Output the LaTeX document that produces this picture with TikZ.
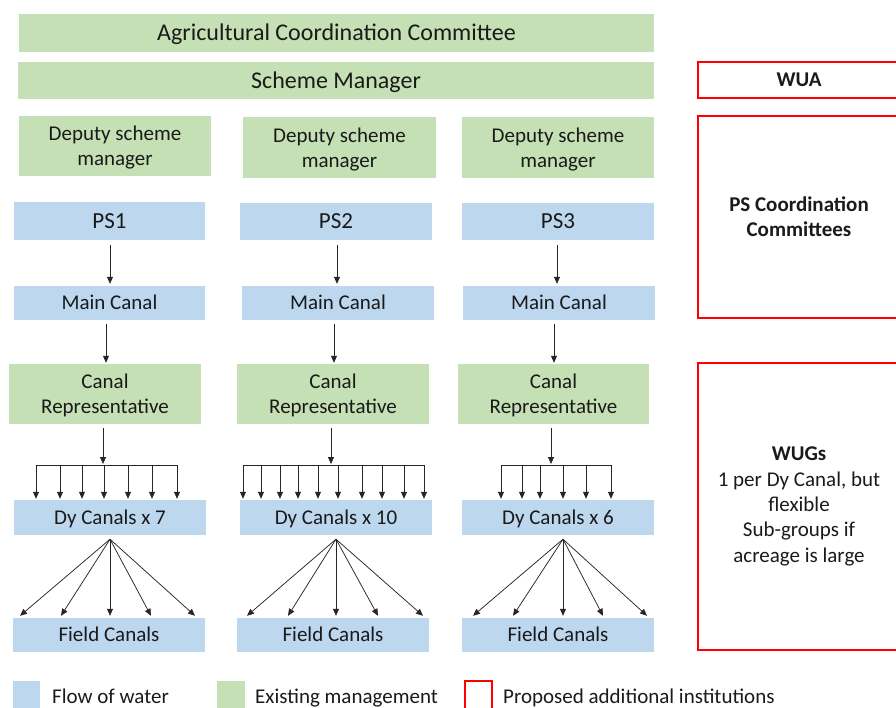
\documentclass[tikz,border=0pt]{standalone}
\usepackage{fontspec}
\setmainfont{Carlito}
\usetikzlibrary{arrows.meta,calc}
\definecolor{gfill}{HTML}{C5E0B4}
\definecolor{bfill}{HTML}{BDD7EE}
\definecolor{rline}{HTML}{FF0000}
\definecolor{txt}{HTML}{1A1A1A}
\begin{document}
\begin{tikzpicture}[x=1pt,y=-1pt,
  box/.style={inner sep=0pt, align=center, text=txt, font=\fontsize{21}{25.3}\selectfont},
  one/.style={text height=#1pt, text depth=0pt},
  one/.default=13.3,
  two/.style={text depth=0pt},
  gbox/.style={box, fill=gfill},
  bbox/.style={box, fill=bfill},
  rbox/.style={box, draw=rline, line width=1.3pt},
  big/.style={font=\fontsize{24}{28}\selectfont, one=15.2},
  psfont/.style={font=\fontsize{23}{27}\selectfont, one=14.5},
  sz/.style 2 args={minimum width=#1pt, minimum height=#2pt},
  arr/.style={draw=black!85, line width=0.75pt, -{Triangle[length=7pt,width=6pt]}},
  busline/.style={draw=black!85, line width=0.75pt}
]
\clip (0,0) rectangle (896,707);
% top
\node[gbox,big,sz={635}{38}] (agri) at (336.5,33) {Agricultural Coordination Committee};
\node[gbox,big,sz={636}{37}] (sm) at (336,80.5) {Scheme Manager};
% deputies
\node[gbox,two,sz={192}{60}] (dep1) at (115,146) {Deputy scheme\\manager};
\node[gbox,two,sz={193}{61}] (dep2) at (339.5,147.5) {Deputy scheme\\manager};
\node[gbox,two,sz={192}{61}] (dep3) at (558,147.5) {Deputy scheme\\manager};
% PS
\node[bbox,psfont,sz={191}{38}] (ps1) at (109.5,221) {PS1};
\node[bbox,psfont,sz={192}{37}] (ps2) at (336,221.5) {PS2};
\node[bbox,psfont,sz={192}{37}] (ps3) at (558,221.5) {PS3};
% main canals
\node[bbox,one,sz={191}{34}] (mc1) at (109.5,303) {Main Canal};
\node[bbox,one,sz={192}{34}] (mc2) at (338,303) {Main Canal};
\node[bbox,one,sz={192}{34}] (mc3) at (559,303) {Main Canal};
% canal reps
\node[gbox,two,sz={192}{60}] (cr1) at (105,394) {Canal\\Representative};
\node[gbox,two,sz={192}{60}] (cr2) at (333,394) {Canal\\Representative};
\node[gbox,two,sz={191}{60}] (cr3) at (553.5,394) {Canal\\Representative};
% dy canals
\node[bbox,one,sz={192}{35}] (dy1) at (110,517.5) {Dy Canals x 7};
\node[bbox,one,sz={192}{35}] (dy2) at (336,517.5) {Dy Canals x 10};
\node[bbox,one,sz={192}{35}] (dy3) at (558,517.5) {Dy Canals x 6};
% field canals
\node[bbox,one,sz={192}{34}] (fc1) at (109,635) {Field Canals};
\node[bbox,one,sz={192}{34}] (fc2) at (333,635) {Field Canals};
\node[bbox,one,sz={192}{34}] (fc3) at (558,635) {Field Canals};
% red boxes
\node[rbox,one,sz={202}{36}] (wua) at (799,80) {\bfseries WUA};
\node[rbox,sz={202}{202}] (psc) at (799,217) {\bfseries PS Coordination\\\bfseries Committees};
\node[rbox,sz={202}{287}] (wug) at (799,506.5) {\bfseries WUGs\\1 per Dy Canal, but\\flexible\\Sub-groups if\\acreage is large};
% arrows PS -> main canal
\draw[arr] ($(ps1.south)+(0.5,5)$) -- ($(mc1.north)+(0.5,-2)$);
\draw[arr] ($(ps2.south)+(1,5)$) -- ($(mc2.north)+(-1,-2)$);
\draw[arr] ($(ps3.south)+(-1,5)$) -- ($(mc3.north)+(-2,-2)$);
% main canal -> canal rep
\draw[arr] ($(mc1.south)+(-3.5,4)$) -- ($(cr1.north)+(1,-1)$);
\draw[arr] ($(mc2.south)+(-4,4)$) -- ($(cr2.north)+(1,-1)$);
\draw[arr] ($(mc3.south)+(-5,4)$) -- ($(cr3.north)+(0.5,-1)$);
% bus coordinates
\coordinate (b1) at (103,465);
\coordinate (b2) at (331,465);
\coordinate (b3) at (551,465);
\draw[arr] ($(cr1.south)+(-2,4)$) -- ($(b1)+(0,-1)$);
\draw[arr] ($(cr2.south)+(-2,4)$) -- ($(b2)+(0,-1)$);
\draw[arr] ($(cr3.south)+(-2.5,4)$) -- ($(b3)+(0,-1)$);
\draw[busline] (36,0 |- b1) -- (177,0 |- b1);
\draw[busline] (243,0 |- b2) -- (424,0 |- b2);
\draw[busline] (501,0 |- b3) -- (611,0 |- b3);
\foreach \x in {36,60,82,104,128,152,177}
  \draw[arr] (\x,0 |- b1) -- ([yshift=1pt]\x,0 |- dy1.north);
\foreach \x in {243,261,280,298,318,338,362,382,404,424}
  \draw[arr] (\x,0 |- b2) -- ([yshift=1pt]\x,0 |- dy2.north);
\foreach \x in {501,522,540,563,586,611}
  \draw[arr] (\x,0 |- b3) -- ([yshift=1pt]\x,0 |- dy3.north);
% fans
\coordinate (f1) at ($(dy1.south)+(0,4)$);
\coordinate (f2) at ($(dy2.south)+(0,4)$);
\coordinate (f3) at ($(dy3.south)+(5,4)$);
\foreach \x in {20,61,110,151,195}
  \draw[arr] (f1) -- ([yshift=2pt]\x,0 |- fc1.north);
\foreach \x in {247,288,336,378,423}
  \draw[arr] (f2) -- ([yshift=2pt]\x,0 |- fc2.north);
\foreach \x in {473,513,563,603,647}
  \draw[arr] (f3) -- ([yshift=2pt]\x,0 |- fc3.north);
% legend
\node[fill=bfill,inner sep=0pt,sz={27}{30}] (lg1) at (26.5,696) {};
\node[fill=gfill,inner sep=0pt,sz={28}{30}] (lg2) at (231,696) {};
\node[draw=rline,line width=1.3pt,inner sep=0pt,sz={27}{30}] (lg3) at (478.5,696) {};
\node[box,anchor=base west] (lt1) at (52,703) {Flow of water};
\node[box,anchor=base west] (lt2) at (255,703) {Existing management};
\node[box,anchor=base west] (lt3) at (503,703) {Proposed additional institutions};
\end{tikzpicture}
\end{document}
